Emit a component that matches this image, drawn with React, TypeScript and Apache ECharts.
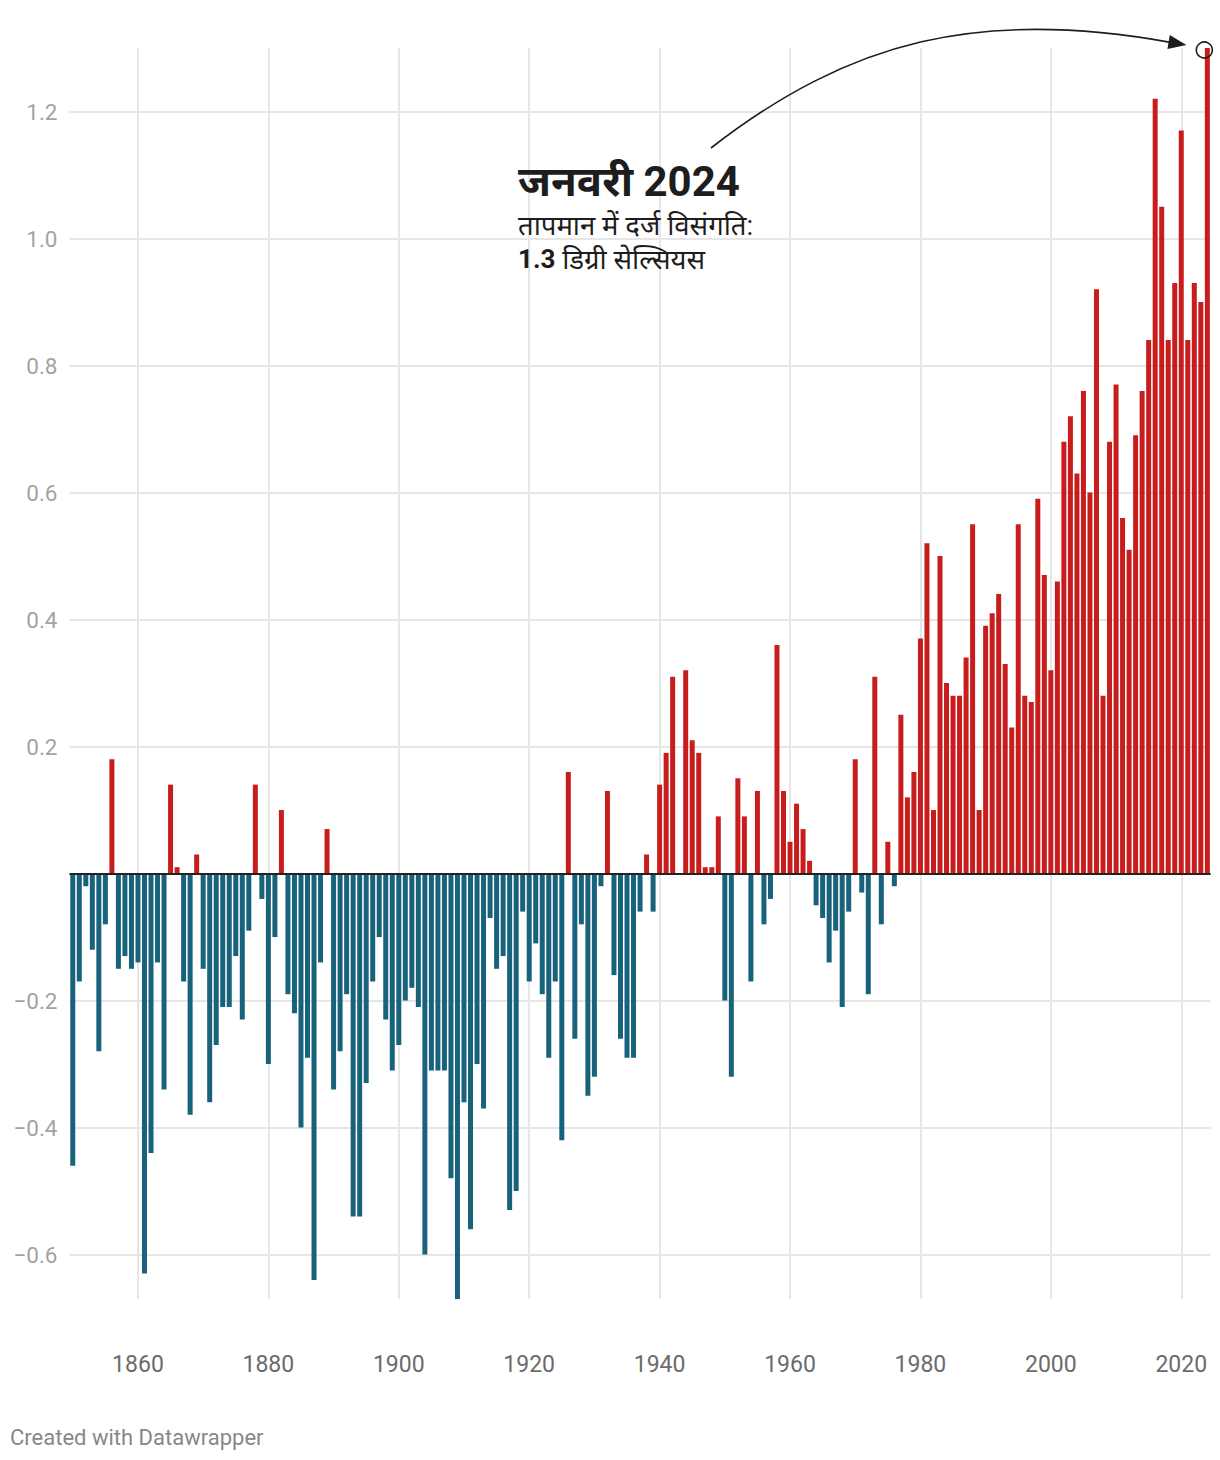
import React, { useEffect, useRef } from "react";
import * as echarts from "echarts";

const START_YEAR = 1850;

// January temperature anomaly (°C), 1850–2024
const anomalies: number[] = [
  -0.46, -0.17, -0.02, -0.12, -0.28, -0.08, 0.18, -0.15, -0.13, -0.15, // 1850s
  -0.14, -0.63, -0.44, -0.14, -0.34, 0.14, 0.01, -0.17, -0.38, 0.03, // 1860s
  -0.15, -0.36, -0.27, -0.21, -0.21, -0.13, -0.23, -0.09, 0.14, -0.04, // 1870s
  -0.3, -0.1, 0.1, -0.19, -0.22, -0.4, -0.29, -0.64, -0.14, 0.07, // 1880s
  -0.34, -0.28, -0.19, -0.54, -0.54, -0.33, -0.17, -0.1, -0.23, -0.31, // 1890s
  -0.27, -0.2, -0.18, -0.21, -0.6, -0.31, -0.31, -0.31, -0.48, -0.67, // 1900s
  -0.36, -0.56, -0.3, -0.37, -0.07, -0.15, -0.13, -0.53, -0.5, -0.06, // 1910s
  -0.17, -0.11, -0.19, -0.29, -0.17, -0.42, 0.16, -0.26, -0.08, -0.35, // 1920s
  -0.32, -0.02, 0.13, -0.16, -0.26, -0.29, -0.29, -0.06, 0.03, -0.06, // 1930s
  0.14, 0.19, 0.31, 0.0, 0.32, 0.21, 0.19, 0.01, 0.01, 0.09, // 1940s
  -0.2, -0.32, 0.15, 0.09, -0.17, 0.13, -0.08, -0.04, 0.36, 0.13, // 1950s
  0.05, 0.11, 0.07, 0.02, -0.05, -0.07, -0.14, -0.09, -0.21, -0.06, // 1960s
  0.18, -0.03, -0.19, 0.31, -0.08, 0.05, -0.02, 0.25, 0.12, 0.16, // 1970s
  0.37, 0.52, 0.1, 0.5, 0.3, 0.28, 0.28, 0.34, 0.55, 0.1, // 1980s
  0.39, 0.41, 0.44, 0.33, 0.23, 0.55, 0.28, 0.27, 0.59, 0.47, // 1990s
  0.32, 0.46, 0.68, 0.72, 0.63, 0.76, 0.6, 0.92, 0.28, 0.68, // 2000s
  0.77, 0.56, 0.51, 0.69, 0.76, 0.84, 1.22, 1.05, 0.84, 0.93, // 2010s
  1.17, 0.84, 0.93, 0.9, 1.3, // 2020–2024
];

const years: number[] = anomalies.map((_, i) => START_YEAR + i);

const xTickYears: number[] = [1860, 1880, 1900, 1920, 1940, 1960, 1980, 2000, 2020];
const yGridValues: number[] = [-0.6, -0.4, -0.2, 0, 0.2, 0.4, 0.6, 0.8, 1.0, 1.2];
const yLabelValues: number[] = [-0.6, -0.4, -0.2, 0.2, 0.4, 0.6, 0.8, 1.0, 1.2];

const highlightYear = 2024;
const highlightValue = 1.3;

const titleText = "जनवरी 2024";
const subText = "तापमान में दर्ज विसंगति:";
const valueText = "1.3";
const unitText = "डिग्री सेल्सियस";
const footerText = "Created with Datawrapper";

const RED = "#c71e1d";
const BLUE = "#18627b";
const GRID = "#e6e6e6";
const INK = "#1d1d1d";
const FONT = "Roboto, 'Noto Sans', sans-serif";

export default function App() {
  const ref = useRef<HTMLDivElement>(null);

  useEffect(() => {
    document.body.style.margin = "0";
    if (!ref.current) return;
    const chart = echarts.init(ref.current, null, { renderer: "svg" });

    chart.setOption({
      animation: false,
      grid: {
        left: 69.5,
        right: 9.4,
        top: 48,
        bottom: 161,
        containLabel: false,
      },
      xAxis: {
        type: "value",
        min: START_YEAR - 0.5,
        max: years[years.length - 1] + 0.5,
        axisLine: { show: false },
        axisTick: { show: false, customValues: xTickYears },
        axisLabel: {
          customValues: xTickYears,
          color: "#6b6b6b",
          fontSize: 23,
          fontFamily: FONT,
          margin: 54,
          formatter: (v: number) => String(v),
        },
        splitLine: { show: true, lineStyle: { color: GRID, width: 2 } },
      },
      yAxis: {
        type: "value",
        min: -0.67,
        max: 1.3,
        axisLine: { show: false },
        axisTick: { show: false, customValues: yGridValues },
        axisLabel: {
          customValues: yLabelValues,
          color: "#a3a3a3",
          fontSize: 22.5,
          fontFamily: FONT,
          margin: 12,
          formatter: (v: number) =>
            v < 0 ? "\u2212" + Math.abs(v).toFixed(1) : v.toFixed(1),
        },
        splitLine: { show: true, lineStyle: { color: GRID, width: 2 } },
      },
      series: [
        {
          type: "bar",
          barWidth: 5,
          silent: true,
          data: years.map((y, i) => ({
            value: [y, anomalies[i]],
            itemStyle: { color: anomalies[i] >= 0 ? RED : BLUE },
          })),
          markLine: {
            silent: true,
            symbol: ["none", "none"],
            label: { show: false },
            lineStyle: { color: "#222222", width: 2, type: "solid" },
            data: [{ yAxis: 0 }],
          },
        },
      ],
    });

    const p = chart.convertToPixel({ xAxisIndex: 0, yAxisIndex: 0 }, [
      highlightYear,
      highlightValue,
    ]) as number[];
    const px = p[0];
    const py = p[1];

    // arrow geometry relative to highlighted bar
    const tipX = px - 21;
    const tipY = py - 3;
    const dx = 203;
    const dy = 34;
    const len = Math.sqrt(dx * dx + dy * dy);
    const ux = dx / len;
    const uy = dy / len;
    const nx = -uy;
    const ny = ux;
    const L = 18;
    const W = 7;
    const bx = tipX - L * ux;
    const by = tipY - L * uy;
    const startX = 711;
    const startY = 148;

    chart.setOption({
      graphic: [
        {
          type: "bezierCurve",
          silent: true,
          shape: {
            x1: startX,
            y1: startY,
            cpx1: 850,
            cpy1: 40,
            cpx2: 980,
            cpy2: 8,
            x2: bx + 2 * ux,
            y2: by + 2 * uy,
          },
          style: { stroke: INK, lineWidth: 1.6, fill: "none" },
        },
        {
          type: "polygon",
          silent: true,
          shape: {
            points: [
              [tipX, tipY],
              [bx + W * nx, by + W * ny],
              [bx - W * nx, by - W * ny],
            ],
          },
          style: { fill: INK },
        },
        {
          type: "circle",
          silent: true,
          z: 10,
          shape: { cx: px - 3, cy: py + 2, r: 8 },
          style: { stroke: INK, lineWidth: 1.6, fill: "none" },
        },
        {
          type: "text",
          silent: true,
          x: 518,
          y: 181,
          style: {
            text: titleText,
            fill: INK,
            fontSize: 42,
            fontWeight: "bold",
            fontFamily: FONT,
            verticalAlign: "middle",
            align: "left",
          },
        },
        {
          type: "text",
          silent: true,
          x: 518,
          y: 225,
          style: {
            text: subText,
            fill: INK,
            fontSize: 27.5,
            fontFamily: FONT,
            verticalAlign: "middle",
            align: "left",
          },
        },
        {
          type: "text",
          silent: true,
          x: 518,
          y: 259,
          style: {
            text: "{b|" + valueText + "}{r| " + unitText + "}",
            fill: INK,
            fontFamily: FONT,
            verticalAlign: "middle",
            align: "left",
            rich: {
              b: { fontSize: 26, fontWeight: "bold", fill: INK, fontFamily: FONT },
              r: { fontSize: 27.5, fill: INK, fontFamily: FONT },
            },
          },
        },
        {
          type: "text",
          silent: true,
          x: 10,
          y: 1437,
          style: {
            text: footerText,
            fill: "#888888",
            fontSize: 22,
            fontFamily: FONT,
            verticalAlign: "middle",
            align: "left",
          },
        },
      ],
    });

    return () => {
      chart.dispose();
    };
  }, []);

  return <div ref={ref} style={{ width: 1220, height: 1460 }} />;
}
